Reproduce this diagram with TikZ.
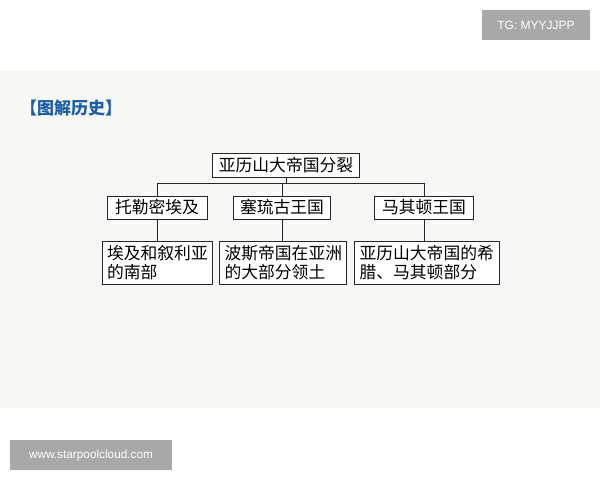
\documentclass[tikz,border=0pt]{standalone}
\usepackage{fontspec}
\newfontfamily\cjk{Noto Sans CJK SC}
\newfontfamily\wmfont{Liberation Sans}
\definecolor{panelgray}{HTML}{F7F7F5}
\definecolor{markgray}{HTML}{A8A8A8}
\definecolor{titleblue}{HTML}{1E5FA6}
\tikzset{
  kbox/.style={draw=black!85, line width=0.7pt, fill=white, inner sep=0pt,
    font=\cjk\fontsize{16.8}{18.5}\selectfont},
  statebox/.style={kbox, minimum height=23pt},
  landbox/.style={kbox, minimum height=43pt, align=left, inner xsep=5pt},
  link/.style={draw=black!85, line width=0.7pt},
  wmbox/.style={fill=markgray, text=white, inner sep=0pt}
}
\begin{document}
\begin{tikzpicture}[x=1pt,y=-1pt]
  \useasboundingbox (0,0) rectangle (600,480);
  \fill[white] (0,0) rectangle (600,480);
  \fill[panelgray] (0,71) rectangle (600,408);
  % watermarks
  \node[wmbox, minimum width=108pt, minimum height=30pt, font=\wmfont\fontsize{12}{14}\selectfont] (tg) at (536,25) {TG: MYYJJPP};
  \node[wmbox, minimum width=162pt, minimum height=30pt, font=\wmfont\fontsize{11.8}{13}\selectfont] (site) at (91,455) {www.starpoolcloud.com};
  % title
  \node[anchor=west, inner sep=0pt, text=titleblue, font=\cjk\bfseries\fontsize{17}{19}\selectfont] (title) at (20,108) {【图解历史】};
  % top
  \node[kbox, minimum width=147pt, minimum height=24pt] (split) at (286,165) {亚历山大帝国分裂};
  \coordinate (bar) at (0,183);
  % kingdoms
  \node[statebox, minimum width=100pt] (ptolemy) at (157,207.5) {托勒密埃及};
  \node[statebox, minimum width=97pt] (seleucid) at (282,207.5) {塞琉古王国};
  \node[statebox, minimum width=99pt] (macedon) at (424,207.5) {马其顿王国};
  % lands
  \node[landbox, minimum width=110pt, text width=100pt] (egypt) at (157,262.5) {埃及和叙利亚\\的南部};
  \node[landbox, minimum width=127pt, text width=117pt] (persia) at (283,262.5) {波斯帝国在亚洲\\的大部分领土};
  \node[landbox, minimum width=145pt, text width=135pt] (greece) at (427,262.5) {亚历山大帝国的希\\腊、马其顿部分};
  % connectors
  \draw[link] (split.south) -- (split.south |- bar);
  \draw[link] (ptolemy.north) -- (ptolemy.north |- bar) -- (macedon.north |- bar) -- (macedon.north);
  \draw[link] (seleucid.north) -- (seleucid.north |- bar);
  \draw[link] (ptolemy.south) -- (ptolemy.south |- egypt.north);
  \draw[link] (seleucid.south) -- (seleucid.south |- persia.north);
  \draw[link] (macedon.south) -- (macedon.south |- greece.north);
\end{tikzpicture}
\end{document}
